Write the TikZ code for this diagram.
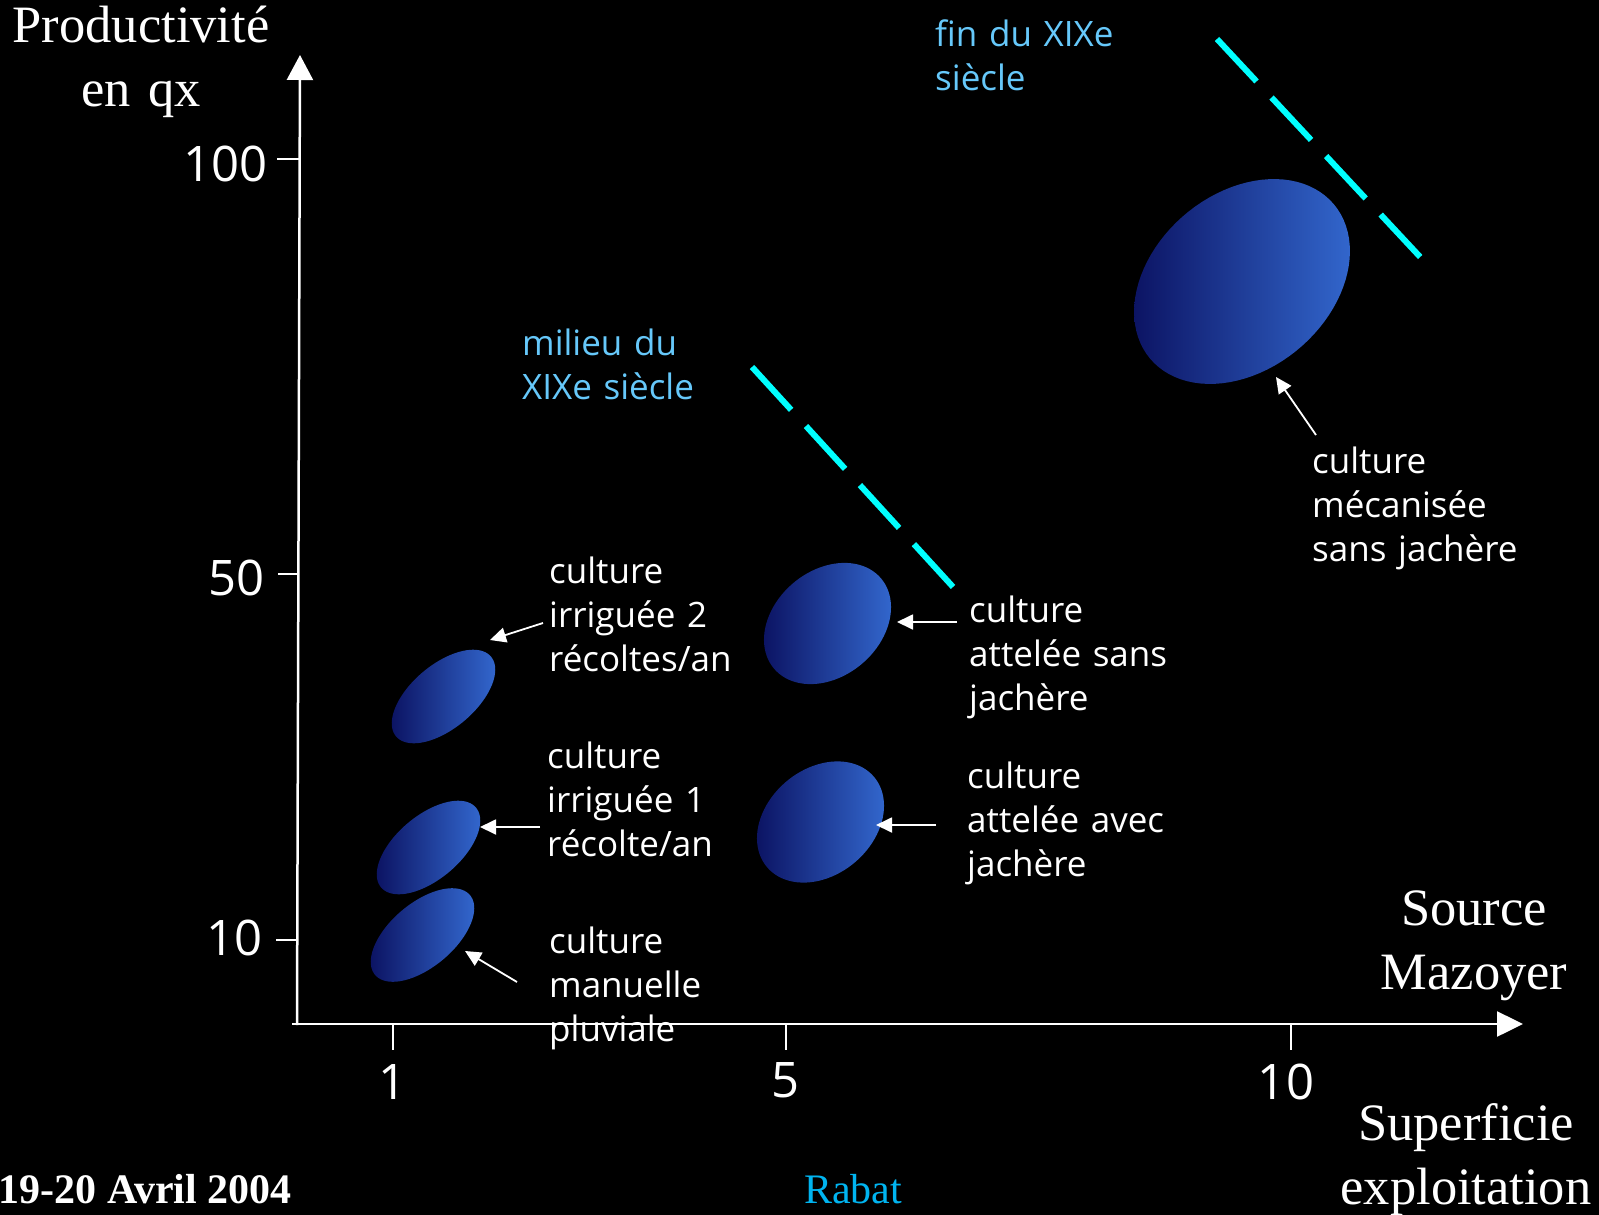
\documentclass[tikz,border=0pt]{standalone}
\usepackage{fontspec}
\setmainfont{Liberation Serif}
\newfontfamily\lblfont{Open Sans}
\usetikzlibrary{arrows.meta}
\definecolor{eracol}{RGB}{102,200,250}
\definecolor{rabatcol}{RGB}{0,180,240}
\definecolor{cyanline}{RGB}{0,255,255}
\definecolor{blobL}{RGB}{12,20,100}
\definecolor{blobR}{RGB}{50,102,204}
\newcommand\myblob[5]{\shade[blobshade] plot[domain=0:360, samples=91, variable=\q] ({#1+#3*cos(\q)*cos(#5)-#4*sin(\q)*sin(#5)}, {#2-#3*cos(\q)*sin(#5)-#4*sin(\q)*cos(#5)}) -- cycle;}
\begin{document}
\begin{tikzpicture}[x=1pt,y=-1pt,
  lbl/.style={font=\lblfont\fontsize{35}{44}\selectfont, text=white, inner sep=0pt, anchor=base west, text width=300pt, align=left},
  era/.style={lbl, text=eracol},
  ser/.style={font=\fontsize{52.5}{64}\selectfont, text=white, inner sep=0pt, anchor=base, text width=420pt, align=center},
  tickmark/.style={white, line width=2pt},
  ticklbl/.style={font=\lblfont\fontsize{49}{56}\selectfont, text=white, inner sep=0pt},
  axisline/.style={white, line width=2.5pt},
  arr/.style={white, line width=1.8pt, -{Triangle[length=16pt,width=15pt]}},
  epoch/.style={cyanline, line width=6pt, dash pattern=on 58pt off 22pt},
  blobshade/.style={left color=blobL, right color=blobR}]
\fill[black] (0,0) rectangle (1599,1215);
\useasboundingbox (0,0) rectangle (1599,1215);

% axes
\coordinate (orig) at (297,1025);
\coordinate (ytip) at (300,55);
\coordinate (xorig) at (292,1024);
\coordinate (xtip) at (1523,1024);
\draw[axisline, -{Triangle[length=25pt,width=26pt]}] (orig) -- (ytip);
\draw[axisline, -{Triangle[length=26pt,width=25pt]}] (xorig) -- (xtip);

% y ticks
\draw[tickmark] (277,159) -- (300,159);
\draw[tickmark] (278,574) -- (299,574);
\draw[tickmark] (276,940) -- (297,940);
\node[ticklbl, anchor=east] (y100) at (268,164) {100};
\node[ticklbl, anchor=east] (y50) at (265,578) {50};
\node[ticklbl, anchor=east] (y10) at (263,938) {10};

% x ticks
\draw[tickmark] (393,1025) -- (393,1050);
\draw[tickmark] (786,1025) -- (786,1050);
\draw[tickmark] (1291,1025) -- (1291,1050);
\node[ticklbl] (x1) at (393,1082) {1};
\node[ticklbl] (x5) at (786,1080) {5};
\node[ticklbl] (x10) at (1286,1082) {10};

% epoch dashed lines
\coordinate (d1a) at (752,367);
\coordinate (d1b) at (954,588);
\coordinate (d2a) at (1217,39);
\coordinate (d2b) at (1423,260);
\draw[epoch] (d1a) -- (d1b);
\draw[epoch] (d2a) -- (d2b);

% blobs
\myblob{443.5}{696.5}{62}{32}{40}
\myblob{428.5}{847.5}{62}{32}{40}
\myblob{422.5}{935}{62}{32}{40}
\myblob{827.5}{623.5}{70}{53}{40}
\myblob{820.5}{822}{70}{53}{40}
\myblob{1242}{281.5}{120}{88}{40}

% labels
\node[lbl] (l1) at (549,583) {culture\\irriguée 2\\récoltes/an};
\node[lbl] (l2) at (547,768) {culture\\irriguée 1\\récolte/an};
\node[lbl] (l3) at (549,953) {culture\\manuelle\\pluviale};
\node[lbl] (l4) at (969,622) {culture\\attelée sans\\jachère};
\node[lbl] (l5) at (967,788) {culture\\attelée avec\\jachère};
\node[lbl] (l6) at (1312,473) {culture\\mécanisée\\sans jachère};
\node[era] (mil) at (522,355) {milieu du\\XIXe siècle};
\node[era] (fin) at (935,47) {fin du XIXe\\siècle};

% arrows
\coordinate (a1s) at (543,623); \coordinate (a1e) at (490,640);
\coordinate (a2s) at (540,827); \coordinate (a2e) at (480,827);
\coordinate (a3s) at (517,982); \coordinate (a3e) at (465,951);
\coordinate (a4s) at (957,622); \coordinate (a4e) at (897,622);
\coordinate (a5s) at (936,825); \coordinate (a5e) at (876,825);
\coordinate (a6s) at (1316,435); \coordinate (a6e) at (1276,377);
\draw[arr] (a1s) -- (a1e);
\draw[arr] (a2s) -- (a2e);
\draw[arr] (a3s) -- (a3e);
\draw[arr] (a4s) -- (a4e);
\draw[arr] (a5s) -- (a5e);
\draw[arr] (a6s) -- (a6e);

% serif texts
\node[ser] (prod) at (141,43) {Productivité\\en qx};
\node[ser] (src) at (1474,925) {Source\\Mazoyer};
\node[ser] (sup) at (1466,1140) {Superficie\\exploitation};
\node[font=\bfseries\fontsize{42}{50}\selectfont, text=white, inner sep=0pt, anchor=base east] (date) at (292,1203) {19-20 Avril 2004};
\node[font=\fontsize{42}{50}\selectfont, text=rabatcol, inner sep=0pt, anchor=base west] (rabat) at (804,1203) {Rabat};
\end{tikzpicture}
\end{document}
